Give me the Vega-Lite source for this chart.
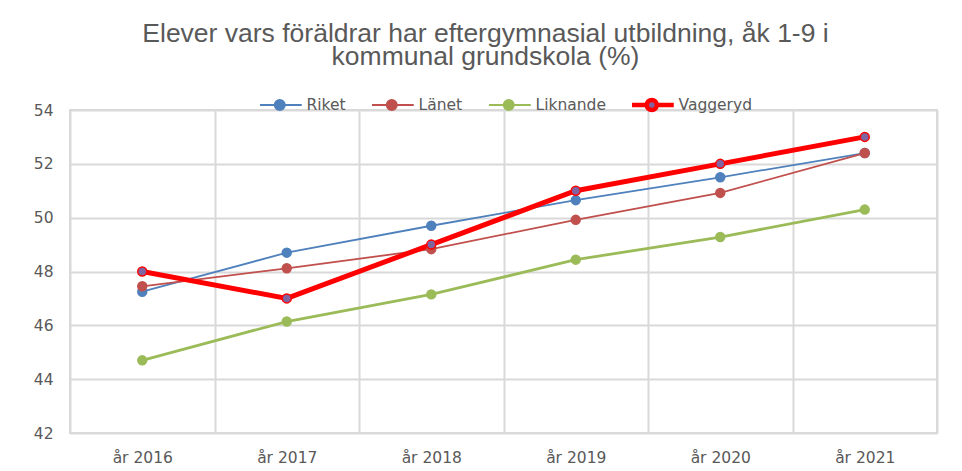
{
  "$schema": "https://vega.github.io/schema/vega-lite/v6.json",
  "width": 867,
  "height": 323,
  "autosize": {"type": "none"},
  "padding": {"left": 70, "top": 110, "right": 25, "bottom": 38},
  "background": "white",
  "title": {
    "text": ["Elever vars föräldrar har eftergymnasial utbildning, åk 1-9 i", "kommunal grundskola (%)"],
    "font": "Liberation Sans",
    "fontSize": 26.5,
    "fontWeight": "normal",
    "color": "#595959",
    "lineHeight": 22.5,
    "anchor": "middle",
    "frame": "group",
    "dx": -18,
    "offset": 22
  },
  "data": {
    "values": [
      {"year": "år 2016", "serie": "Riket", "value": 47.25},
      {"year": "år 2017", "serie": "Riket", "value": 48.7},
      {"year": "år 2018", "serie": "Riket", "value": 49.7},
      {"year": "år 2019", "serie": "Riket", "value": 50.65},
      {"year": "år 2020", "serie": "Riket", "value": 51.5},
      {"year": "år 2021", "serie": "Riket", "value": 52.4},
      {"year": "år 2016", "serie": "Länet", "value": 47.45},
      {"year": "år 2017", "serie": "Länet", "value": 48.12},
      {"year": "år 2018", "serie": "Länet", "value": 48.83},
      {"year": "år 2019", "serie": "Länet", "value": 49.92},
      {"year": "år 2020", "serie": "Länet", "value": 50.92},
      {"year": "år 2021", "serie": "Länet", "value": 52.4},
      {"year": "år 2016", "serie": "Liknande", "value": 44.7},
      {"year": "år 2017", "serie": "Liknande", "value": 46.14},
      {"year": "år 2018", "serie": "Liknande", "value": 47.15},
      {"year": "år 2019", "serie": "Liknande", "value": 48.44},
      {"year": "år 2020", "serie": "Liknande", "value": 49.28},
      {"year": "år 2021", "serie": "Liknande", "value": 50.3},
      {"year": "år 2016", "serie": "Vaggeryd", "value": 48},
      {"year": "år 2017", "serie": "Vaggeryd", "value": 47},
      {"year": "år 2018", "serie": "Vaggeryd", "value": 49},
      {"year": "år 2019", "serie": "Vaggeryd", "value": 51},
      {"year": "år 2020", "serie": "Vaggeryd", "value": 52},
      {"year": "år 2021", "serie": "Vaggeryd", "value": 53}
    ]
  },
  "encoding": {
    "x": {
      "field": "year",
      "type": "ordinal",
      "title": null,
      "scale": {"type": "band", "paddingInner": 0, "paddingOuter": 0},
      "axis": {
        "tickBand": "extent",
        "grid": true,
        "gridColor": "#d9d9d9",
        "gridWidth": 2,
        "ticks": false,
        "domain": false,
        "labelAngle": 0,
        "labelFont": "DejaVu Sans",
        "labelFontSize": 15.5,
        "labelColor": "#595959",
        "labelPadding": 17
      }
    },
    "y": {
      "field": "value",
      "type": "quantitative",
      "title": null,
      "scale": {"domain": [42, 54], "nice": false, "zero": false},
      "axis": {
        "values": [42, 44, 46, 48, 50, 52, 54],
        "grid": true,
        "gridColor": "#d9d9d9",
        "gridWidth": 2,
        "ticks": false,
        "domain": false,
        "labelFont": "DejaVu Sans",
        "labelFontSize": 15.5,
        "labelColor": "#595959",
        "labelPadding": 17
      }
    }
  },
  "layer": [
    {
      "mark": {"type": "line"},
      "encoding": {
        "color": {
          "field": "serie",
          "type": "nominal",
          "scale": {"domain": ["Riket", "Länet", "Liknande", "Vaggeryd"], "range": ["#4F81BD", "#C0504D", "#9BBB59", "#FF0000"]},
          "legend": {
            "title": null,
            "orient": "none",
            "direction": "horizontal",
            "legendX": 190,
            "legendY": -18,
            "padding": 0,
            "clipHeight": 26,
            "symbolType": "M-2.2,0L-0.5,0M0.5,0L2.2,0M-0.5,0A0.5,0.5 0 1,1 0.5,0A0.5,0.5 0 1,1 -0.5,0Z",
            "symbolSize": 400,
            "symbolOffset": 12,
            "labelOffset": 19,
            "columnPadding": 26,
            "labelFont": "DejaVu Sans",
            "labelFontSize": 15.5,
            "labelColor": "#595959",
            "encode": {
              "symbols": {
                "update": {
                  "shape": {"value": "M-2.2,0L-0.5,0M0.5,0L2.2,0M-0.5,0A0.5,0.5 0 1,1 0.5,0A0.5,0.5 0 1,1 -0.5,0Z"},
                  "size": {"value": 400},
                  "fill": {"signal": "datum.value === 'Vaggeryd' ? '#8064A2' : scale('color', datum.value)"},
                  "stroke": {"signal": "scale('color', datum.value)"},
                  "strokeWidth": {"signal": "datum.value === 'Vaggeryd' ? 4.5 : 2"},
                  "opacity": {"value": 1},
                  "fillOpacity": {"value": 1}
                }
              }
            }
          }
        },
        "strokeWidth": {
          "condition": [
            {"test": "datum.serie === 'Vaggeryd'", "value": 5},
            {"test": "datum.serie === 'Liknande'", "value": 2.8}
          ],
          "value": 1.8
        }
      }
    },
    {
      "mark": {"type": "point", "filled": true, "size": 80, "strokeWidth": 1.5, "opacity": 1},
      "encoding": {
        "fill": {
          "field": "serie",
          "type": "nominal",
          "scale": {"domain": ["Riket", "Länet", "Liknande", "Vaggeryd"], "range": ["#4F81BD", "#C0504D", "#9BBB59", "#8064A2"]},
          "legend": null
        },
        "stroke": {
          "field": "serie",
          "type": "nominal",
          "scale": {"domain": ["Riket", "Länet", "Liknande", "Vaggeryd"], "range": ["#4F81BD", "#C0504D", "#9BBB59", "#FF0000"]},
          "legend": null
        }
      }
    }
  ],
  "config": {
    "view": {"stroke": "#d9d9d9", "strokeWidth": 2}
  }
}
